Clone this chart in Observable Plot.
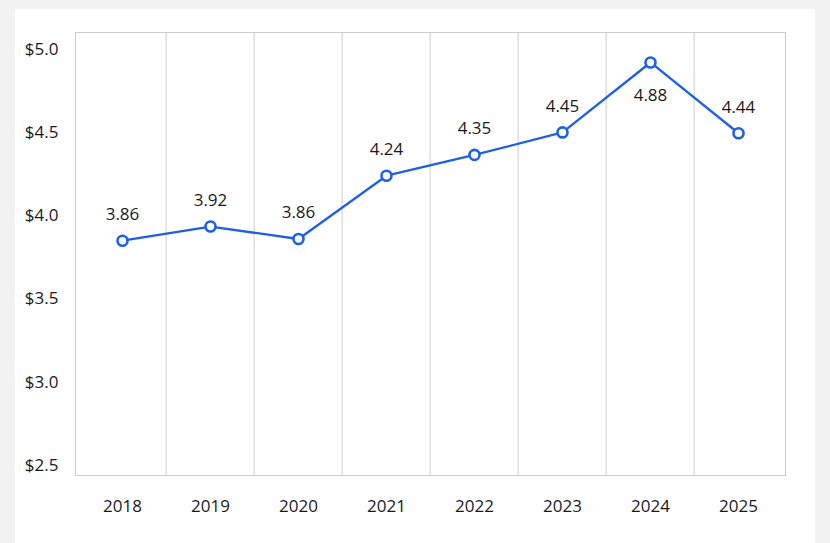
<!DOCTYPE html>
<html>
<head>
<meta charset="utf-8">
<script src="https://cdn.jsdelivr.net/npm/d3@7"></script>
<script src="https://cdn.jsdelivr.net/npm/@observablehq/plot@0.6"></script>
<style>
  html, body { margin: 0; padding: 0; background: #f2f2f2; }
  #panel { position: absolute; left: 15px; top: 9px; width: 800px; height: 534px; background: #ffffff; }
</style>
</head>
<body>
<div id="panel"></div>
<script>
// Data
const years = ["2018", "2019", "2020", "2021", "2022", "2023", "2024", "2025"];
const values = [3.85, 3.935, 3.86, 4.24, 4.365, 4.50, 4.92, 4.495];
const labels = ["3.86", "3.92", "3.86", "4.24", "4.35", "4.45", "4.88", "4.44"];
const yTicks = [2.5, 3.0, 3.5, 4.0, 4.5, 5.0];

const data = years.map((year, i) => ({ year, value: values[i], label: labels[i] }));
const maxValue = d3.max(values);

const W = 800, H = 534, mL = 60, mR = 30, mT = 23, mB = 68;
const halfBand = (W - mL - mR) / years.length / 2;
const blue = "#1f5fe3";

const chart = Plot.plot({
  width: W,
  height: H,
  marginLeft: mL,
  marginRight: mR,
  marginTop: mT,
  marginBottom: mB,
  style: { fontFamily: "'Open Sans', sans-serif", fontSize: "17px", color: "#1a1a1a", background: "transparent" },
  x: { type: "band", domain: years, padding: 0, label: null, tickSize: 0, tickPadding: 24 },
  y: { domain: [2.44, 5.1], ticks: yTicks, tickFormat: d => "$" + d.toFixed(1), label: null, tickSize: 0, tickPadding: 17 },
  marks: [
    Plot.ruleX(years.slice(1), { x: d => d, dx: -halfBand, stroke: "#cccccc", strokeWidth: 1 }),
    Plot.frame({ stroke: "#cccccc", strokeWidth: 1 }),
    Plot.line(data, { x: "year", y: "value", stroke: blue, strokeWidth: 2.3 }),
    Plot.dot(data, { x: "year", y: "value", r: 5, fill: "white", stroke: blue, strokeWidth: 2.6 }),
    Plot.text(data.filter(d => d.value !== maxValue), { x: "year", y: "value", text: "label", dy: -26, fill: "#1a1a1a", fontSize: 17 }),
    Plot.text(data.filter(d => d.value === maxValue), { x: "year", y: "value", text: "label", dy: 33, fill: "#1a1a1a", fontSize: 17 })
  ]
});

document.getElementById("panel").appendChild(chart);
</script>
</body>
</html>
